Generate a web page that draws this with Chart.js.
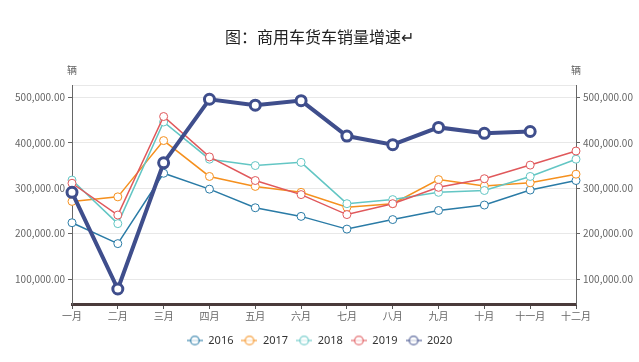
<!DOCTYPE html>
<html>
<head>
<meta charset="utf-8">
<script src="https://cdn.jsdelivr.net/npm/chart.js@4.4.0/dist/chart.umd.min.js"></script>
<style>
html,body{margin:0;padding:0;background:#fff;}
#wrap{width:639px;height:362px;position:relative;}
</style>
</head>
<body>
<div id="wrap"><canvas id="c" width="639" height="362"></canvas></div>
<script>
const categories = ['一月','二月','三月','四月','五月','六月','七月','八月','九月','十月','十一月','十二月'];
const seriesNames = ['2016','2017','2018','2019','2020'];
const s2016 = [224000,178000,333000,298000,257000,238000,210000,231000,251000,263000,296000,317000];
const s2017 = [271000,281000,405000,326000,304000,291000,258000,266000,319000,305000,312000,331000];
const s2018 = [318000,222000,446000,364000,350000,357000,266000,275000,291000,295000,326000,364000];
const s2019 = [311000,241000,458000,369000,317000,286000,242000,266000,302000,321000,351000,382000];
const s2020 = [291000,78000,356000,496000,483000,493000,415000,396000,434000,421000,425000,null];
const yTicks = [100000,200000,300000,400000,500000];
const yMin = 45000, yMax = 527000;
const colors = ['#2a7ba6','#f5901e','#63c6c4','#e0585b','#3f4e8c'];

const seriesData = [s2016,s2017,s2018,s2019,s2020];

function legendIcon(color){
  const cv = document.createElement('canvas');
  cv.width = 16; cv.height = 12;
  const g = cv.getContext('2d');
  g.globalAlpha = 0.7;
  g.strokeStyle = color; g.lineWidth = 1.5;
  g.beginPath(); g.moveTo(0,6); g.lineTo(16,6); g.stroke();
  g.beginPath(); g.arc(8,6,4.3,0,Math.PI*2);
  g.fillStyle = '#fff'; g.fill(); g.stroke();
  return cv;
}
const icons = colors.map(legendIcon);

const datasets = seriesData.map((d,i)=>{
  const big = i === 4;
  return {
    label: seriesNames[i],
    data: d,
    borderColor: colors[i],
    backgroundColor: '#fff',
    borderWidth: big ? 4 : 1.5,
    pointRadius: big ? 5 : 4,
    pointHoverRadius: big ? 5 : 4,
    pointBorderWidth: big ? 3 : 1,
    pointBackgroundColor: '#fff',
    pointBorderColor: colors[i],
    tension: 0,
    yAxisID: 'y',
    order: big ? 0 : 5 - i
  };
});

const fmt = v => v.toLocaleString('en-US',{minimumFractionDigits:2,maximumFractionDigits:2});

const unitPlugin = {
  id: 'units',
  afterDraw(chart){
    const {ctx, chartArea} = chart;
    ctx.save();
    ctx.font = '10px "Noto Sans CJK SC"';
    ctx.fillStyle = '#666';
    ctx.textAlign = 'center';
    ctx.textBaseline = 'middle';
    ctx.fillText('辆', chartArea.left, chartArea.top - 15);
    ctx.fillText('辆', chartArea.right, chartArea.top - 15);
    ctx.restore();
  }
};

function keepTicks(axis){
  axis.ticks = yTicks.map(v=>({value:v})).concat([{value:yMax}]);
}

new Chart(document.getElementById('c'), {
  type: 'line',
  data: { labels: categories, datasets },
  options: {
    responsive: false,
    animation: false,
    layout: { padding: { left: 0, right: 0, top: 0, bottom: 6 } },
    plugins: {
      title: {
        display: true,
        text: '图：商用车货车销量增速↵',
        color: '#222',
        font: { size: 16, family: '"Noto Sans CJK SC", sans-serif', weight: 'normal' },
        padding: { top: 27, bottom: 39 }
      },
      legend: {
        position: 'bottom',
        labels: {
          usePointStyle: true,
          pointStyleWidth: 16,
          boxHeight: 12,
          padding: 8,
          color: '#333',
          font: { size: 11, family: '"Noto Sans", sans-serif' },
          sort: (a,b) => a.datasetIndex - b.datasetIndex,
          generateLabels(chart){
            const items = Chart.defaults.plugins.legend.labels.generateLabels(chart);
            items.forEach(it => { it.pointStyle = icons[it.datasetIndex]; });
            return items;
          }
        }
      },
      tooltip: { enabled: false }
    },
    scales: {
      x: {
        type: 'category',
        offset: false,
        grid: { display: true, drawOnChartArea: false, tickColor: '#555', tickLength: 5 },
        border: { color: '#4a3b3b', width: 3 },
        ticks: { color: '#666', font: { size: 10, family: '"Noto Sans CJK SC", sans-serif' }, padding: 1, maxRotation: 0, autoSkip: false },
        afterFit(s){ s.height = 23; }
      },
      y: {
        position: 'left',
        min: yMin, max: yMax,
        afterBuildTicks: keepTicks,
        grid: {
          color: '#e8e8e8', lineWidth: 1, tickLength: 4,
          tickColor: ctx => (ctx.tick && ctx.tick.value === yMax) ? 'rgba(0,0,0,0)' : '#666'
        },
        border: { color: '#666', width: 1 },
        ticks: {
          color: '#666', padding: 3,
          font: { size: 10, family: '"Noto Sans CJK SC", sans-serif' },
          callback: v => v === yMax ? '' : fmt(v)
        },
        afterFit(s){ s.width = 72; }
      },
      y2: {
        position: 'right',
        min: yMin, max: yMax,
        afterBuildTicks: keepTicks,
        grid: {
          drawOnChartArea: false, tickLength: 4,
          tickColor: ctx => (ctx.tick && ctx.tick.value === yMax) ? 'rgba(0,0,0,0)' : '#666'
        },
        border: { color: '#666', width: 1 },
        ticks: {
          color: '#666', padding: 3,
          font: { size: 10, family: '"Noto Sans CJK SC", sans-serif' },
          callback: v => v === yMax ? '' : fmt(v)
        },
        afterFit(s){ s.width = 63; }
      }
    }
  },
  plugins: [unitPlugin]
});
</script>
</body>
</html>
